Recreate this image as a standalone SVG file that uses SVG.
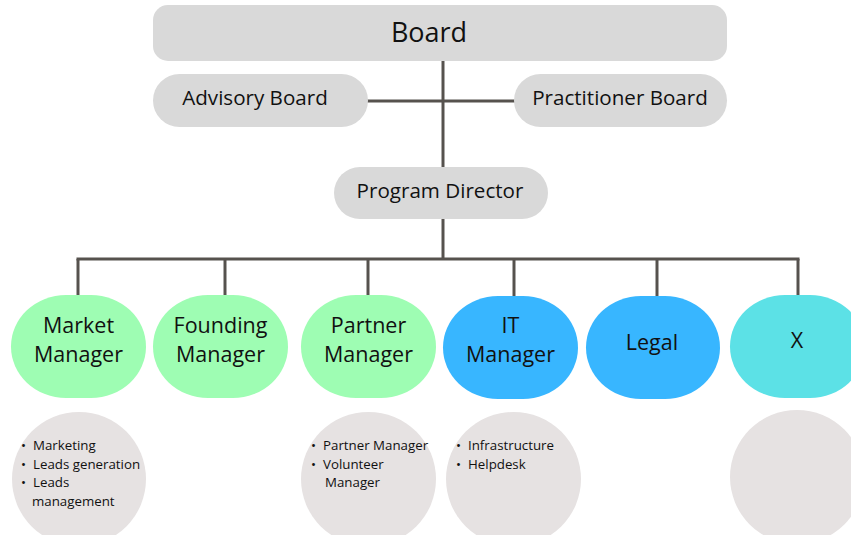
<svg xmlns="http://www.w3.org/2000/svg" width="851" height="535" viewBox="0 0 851 535">
<style>
text{font-family:"Open Sans","Noto Sans","Liberation Sans",sans-serif;fill:#111;}
.top{fill:#d9d9d9;}
.green{fill:#9efdb3;}
.blue{fill:#38b6ff;}
.cyan{fill:#5ce1e6;}
.sub{fill:#e6e2e2;}
.lbl{font-size:21.5px;text-anchor:middle;}
.hd{font-size:20.6px;text-anchor:middle;}
.b{font-size:13.3px;}
.conn line{stroke:#56524e;stroke-width:3;}
</style>
<rect width="851" height="535" fill="#ffffff"/>
<g class="conn">
<line x1="443" y1="60" x2="443" y2="167"/>
<line x1="367" y1="101" x2="515" y2="101"/>
<line x1="443" y1="218" x2="443" y2="259"/>
<line x1="76.5" y1="259" x2="799.5" y2="259"/>
<line x1="78" y1="259" x2="78" y2="296"/>
<line x1="225" y1="259" x2="225" y2="296"/>
<line x1="368" y1="259" x2="368" y2="296"/>
<line x1="514" y1="259" x2="514" y2="296"/>
<line x1="657" y1="259" x2="657" y2="296"/>
<line x1="798" y1="259" x2="798" y2="296"/>
</g>
<g id="board"><rect class="top" x="153" y="5" width="574" height="56" rx="15"/><text x="429" y="42" style="font-size:27px;text-anchor:middle">Board</text></g>
<g id="advisory"><rect class="top" x="153" y="74" width="215" height="53" rx="26.5"/><text class="hd" x="255" y="105">Advisory Board</text></g>
<g id="practitioner"><rect class="top" x="514" y="74" width="213" height="53" rx="26.5"/><text class="hd" x="620" y="105">Practitioner Board</text></g>
<g id="director"><rect class="top" x="334" y="167" width="214" height="52" rx="26"/><text class="hd" x="440" y="198">Program Director</text></g>
<g id="market"><rect class="green" x="11" y="295" width="135" height="103" rx="55" ry="51.5"/><text class="lbl" x="78.5" y="333">Market</text><text class="lbl" x="78.5" y="362">Manager</text></g>
<g id="founding"><rect class="green" x="153" y="295" width="135" height="103" rx="55" ry="51.5"/><text class="lbl" x="220.5" y="333">Founding</text><text class="lbl" x="220.5" y="362">Manager</text></g>
<g id="partner"><rect class="green" x="301" y="295" width="135" height="103" rx="55" ry="51.5"/><text class="lbl" x="368.5" y="333">Partner</text><text class="lbl" x="368.5" y="362">Manager</text></g>
<g id="it"><rect class="blue" x="443" y="296" width="135" height="103" rx="55" ry="51.5"/><text class="lbl" x="510.5" y="333">IT</text><text class="lbl" x="510.5" y="362">Manager</text></g>
<g id="legal"><rect class="blue" x="586" y="296" width="134" height="103" rx="55" ry="51.5"/><text class="lbl" x="652" y="350">Legal</text></g>
<g id="x"><rect class="cyan" x="730" y="295" width="135" height="103" rx="55" ry="51.5"/><text class="lbl" x="797" y="348">X</text></g>
<g id="market-tasks"><ellipse class="sub" cx="79" cy="479" rx="67" ry="67"/>
<text class="b" x="21" y="450">•</text><text class="b" x="33" y="450">Marketing</text>
<text class="b" x="21" y="469">•</text><text class="b" x="33" y="469">Leads generation</text>
<text class="b" x="21" y="487">•</text><text class="b" x="33" y="487">Leads</text>
<text class="b" x="32" y="506">management</text></g>
<g id="partner-tasks"><ellipse class="sub" cx="368.5" cy="479" rx="67.5" ry="67"/>
<text class="b" x="311" y="450">•</text><text class="b" x="323" y="450">Partner Manager</text>
<text class="b" x="311" y="469">•</text><text class="b" x="323" y="469">Volunteer</text>
<text class="b" x="325" y="487">Manager</text></g>
<g id="it-tasks"><ellipse class="sub" cx="513.5" cy="479" rx="67.5" ry="67"/>
<text class="b" x="456" y="450">•</text><text class="b" x="468" y="450">Infrastructure</text>
<text class="b" x="456" y="469">•</text><text class="b" x="468" y="469">Helpdesk</text></g>
<g id="x-tasks"><ellipse class="sub" cx="797" cy="477" rx="67" ry="67"/></g>
</svg>
